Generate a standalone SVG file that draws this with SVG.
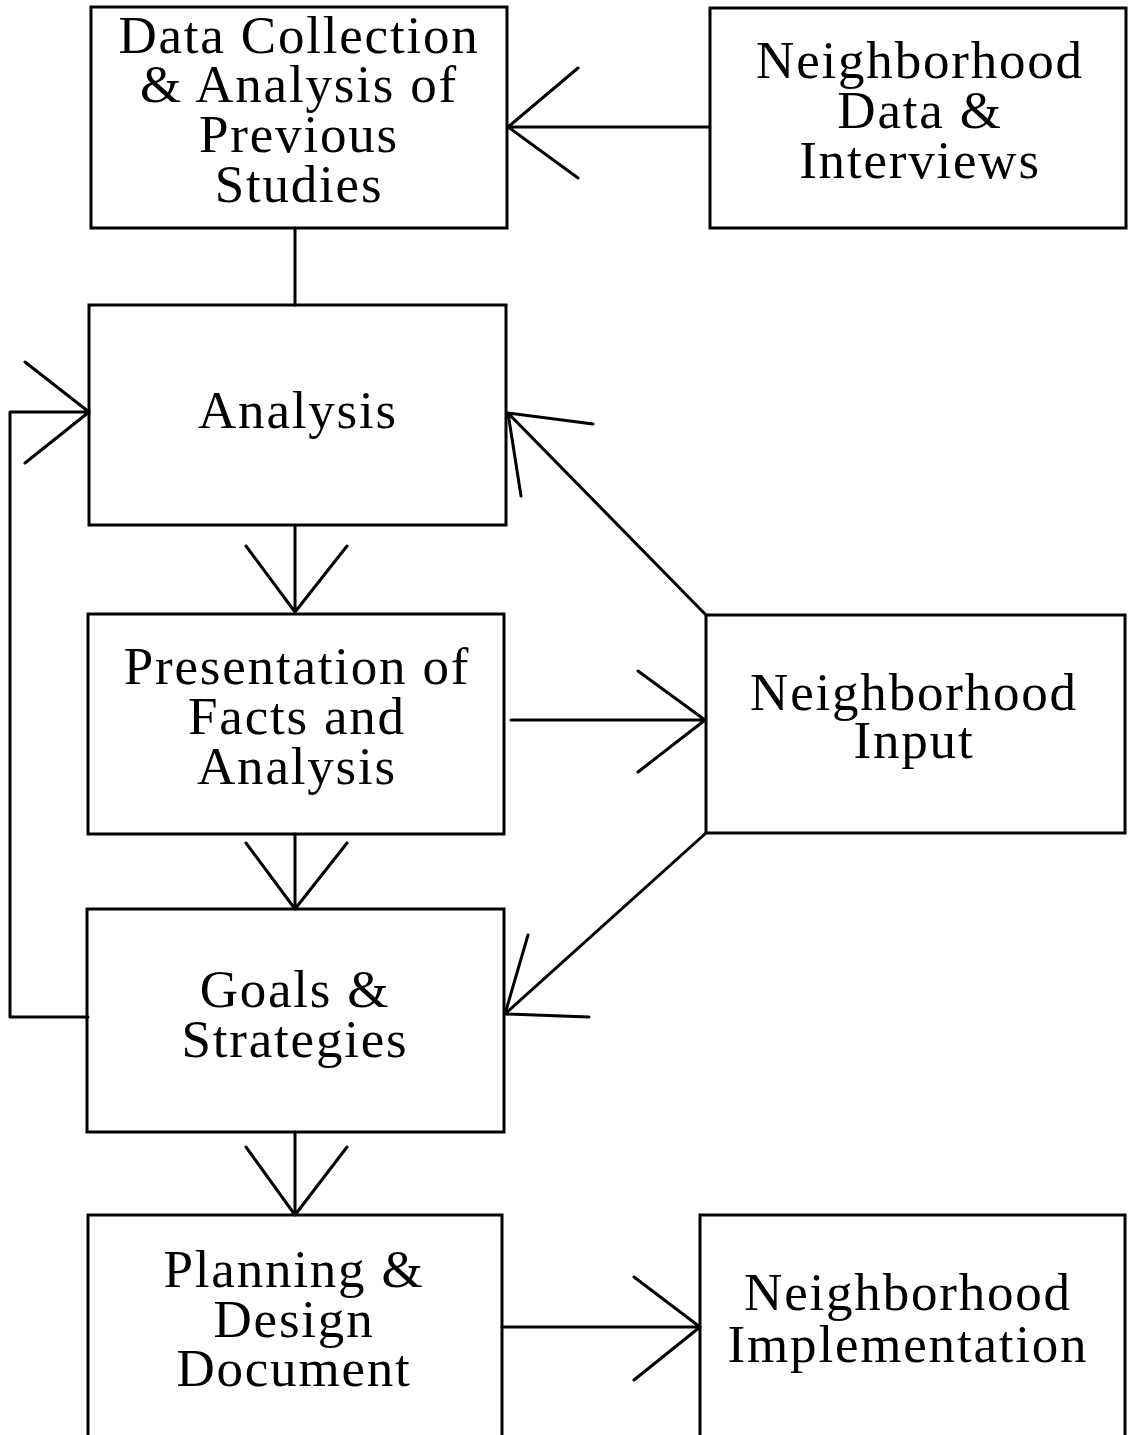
<svg xmlns="http://www.w3.org/2000/svg" width="1128" height="1435" viewBox="0 0 1128 1435">
<style>
.box{fill:none;stroke:#000;stroke-width:3}
.ln{fill:none;stroke:#000;stroke-width:3;stroke-linecap:round;stroke-linejoin:round}
text{font-family:"Liberation Serif","DejaVu Serif",serif;font-size:53px;letter-spacing:1.8px;text-anchor:middle;fill:#000}
</style>
<rect width="1128" height="1435" fill="#fff"/>
<g id="connectors">
  <path class="ln" d="M708,127 H508 M578,68 L508,127 L578,178"/>
  <path class="ln" d="M295,228 V305"/>
  <path class="ln" d="M88,1017 H10 V412 H89 M25,362 L89,412 L25,463"/>
  <path class="ln" d="M295,526 V612 M246,546 L295,612 L347,546"/>
  <path class="ln" d="M295,834 V909 M246,843 L295,909 L347,843"/>
  <path class="ln" d="M295,1132 V1215 M246,1147 L295,1215 L347,1147"/>
  <path class="ln" d="M511,720 H705 M638,671 L705,720 L638,772"/>
  <path class="ln" d="M705,614 L508,413 M593,424 L508,413 L521,496"/>
  <path class="ln" d="M706,833 L505,1014 M528,935 L505,1014 L589,1017"/>
  <path class="ln" d="M502,1327 H700 M634,1277 L700,1327 L634,1380"/>
</g>
<g id="n1">
  <rect class="box" x="91" y="7" width="416" height="221"/>
  <text x="299" y="53">Data Collection</text>
  <text x="299" y="102">&amp; Analysis of</text>
  <text x="299" y="152">Previous</text>
  <text x="299" y="202">Studies</text>
</g>
<g id="n2">
  <rect class="box" x="710" y="8" width="416" height="220"/>
  <text x="920" y="78">Neighborhood</text>
  <text x="920" y="128">Data &amp;</text>
  <text x="920" y="178">Interviews</text>
</g>
<g id="n3">
  <rect class="box" x="89" y="305" width="417" height="220"/>
  <text x="298" y="428">Analysis</text>
</g>
<g id="n4">
  <rect class="box" x="88" y="614" width="416" height="220"/>
  <text x="297" y="684">Presentation of</text>
  <text x="297" y="734">Facts and</text>
  <text x="297" y="784">Analysis</text>
</g>
<g id="n5">
  <rect class="box" x="706" y="615" width="419" height="218"/>
  <text x="914" y="710">Neighborhood</text>
  <text x="914" y="758">Input</text>
</g>
<g id="n6">
  <rect class="box" x="87" y="909" width="417" height="223"/>
  <text x="295" y="1007">Goals &amp;</text>
  <text x="295" y="1057">Strategies</text>
</g>
<g id="n7">
  <rect class="box" x="88" y="1215" width="414" height="230"/>
  <text x="294" y="1287">Planning &amp;</text>
  <text x="294" y="1337">Design</text>
  <text x="294" y="1386">Document</text>
</g>
<g id="n8">
  <rect class="box" x="700" y="1215" width="425" height="230"/>
  <text x="908" y="1310">Neighborhood</text>
  <text x="908" y="1362">Implementation</text>
</g>
</svg>
